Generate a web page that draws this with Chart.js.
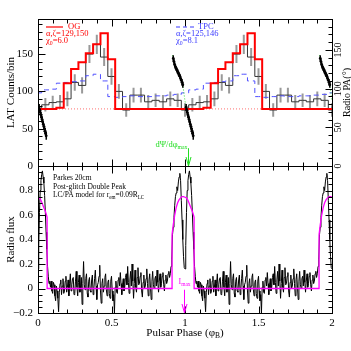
<!DOCTYPE html>
<html>
<head>
<meta charset="utf-8">
<script src="https://cdn.jsdelivr.net/npm/chart.js@4"></script>
<style>
  html, body { margin: 0; padding: 0; background: #fff; }
  #wrap { position: relative; width: 351px; height: 351px; }
  #wrap canvas { position: absolute; left: 0; top: 0; }
</style>
</head>
<body>
<div id="wrap">
  <canvas id="lat" width="351" height="351"></canvas>
  <canvas id="radio" width="351" height="351"></canvas>
</div>
<script>
// LAT light curve, 20 bins per turn, bin centres at 0, 0.05, ... 0.95
const latBinWidth = 0.05;
const latCounts = [75, 82, 85, 86, 90, 112, 108, 150, 163, 146, 120, 100, 75, 95, 95, 86, 88, 86, 90, 88];
const latErrors = [9, 9, 9, 9, 10, 11, 11, 12, 13, 12, 11, 10, 9, 10, 10, 9, 9, 9, 10, 9];
const ogModel = [76.5, 76.5, 76.5, 78, 111, 130, 139, 151, 163, 178, 143, 76.5, 76.5, 76.5, 76.5, 76.5, 76.5, 76.5, 76.5, 76.5];
const tpcModel = [98, 102, 103, 111, 112, 113, 114, 121, 123, 114, 93, 92, 93, 94, 93, 93, 94, 94, 95, 96];
const ogBackground = 76.5;

// radio position angle (deg) around the pulse, one turn
const paPhase = [0.920, 0.925, 0.930, 0.935, 0.940, 0.945, 0.950, 0.955, 0.960, 0.965, 0.970, 0.975, 0.980, 0.985,
                 1.008, 1.012, 1.016, 1.020, 1.024, 1.028, 1.032, 1.036, 1.040, 1.044, 1.048, 1.052, 1.056];
const paAngle = [139, 135, 131, 128, 126, 124, 122, 120, 118, 116, 113, 111, 108, 105,
                 76, 72, 69, 66, 63, 60, 57, 54, 51, 48, 45, 42, 39];
const paError = [4, 4, 3, 3, 3, 3, 3, 3, 3, 3, 3, 3, 4, 4,
                 4, 3, 3, 3, 3, 3, 3, 3, 3, 4, 4, 4, 5];
const paModelPhase = [0.915, 0.93, 0.95, 0.97, 0.985, 1.0, 1.01, 1.02, 1.03, 1.04, 1.05, 1.06];
const paModelAngle = [143, 132, 122, 113, 105, 84, 74, 66, 58, 50, 43, 36];
const dpsiPhase = 1.023;

// Parkes 20cm profile, one turn, 0.005 phase per sample
const radioStep = 0.005;
const radioFlux = [
  0.16, 0.35, 0.62, 0.80, 0.88, 0.93, 0.96, 0.91, 0.86, 0.76,
  0.62, 0.46, 0.32, 0.18, 0.10, 0.04, 0.06, 0.01, 0.06, -0.02,
  -0.04, 0.05, 0.03, -0.06, -0.10, 0.02, -0.02, -0.08, -0.19, -0.03,
  0.04, 0.07, -0.05, 0.02, 0.08, -0.04, -0.02, 0.06, 0.10, -0.03,
  0.01, 0.07, -0.06, 0.04, 0.12, -0.02, 0.03, 0.08, 0.09, -0.05,
  -0.04, 0.06, 0.14, 0.01, -0.06, 0.05, 0.11, -0.03, 0.02, 0.09,
  -0.13, 0.04, 0.22, 0.03, -0.01, 0.08, 0.12, -0.04, -0.07, 0.06,
  0.09, -0.02, -0.03, 0.07, 0.11, -0.05, 0.00, 0.08, 0.15, 0.02,
  -0.09, 0.03, 0.05, 0.10, 0.19, -0.02, -0.12, 0.04, 0.08, -0.03,
  0.02, 0.09, 0.12, -0.01, -0.06, 0.05, 0.07, -0.04, -0.08, 0.06,
  0.10, -0.02, -0.10, -0.05, -0.20, 0.01, 0.06, -0.03, -0.04, 0.07,
  0.09, 0.02, 0.13, 0.04, -0.05, 0.03, 0.08, -0.02, 0.01, 0.09,
  0.12, 0.03, 0.18, 0.05, -0.04, 0.07, 0.14, 0.02, 0.20, 0.06,
  -0.08, 0.04, 0.15, 0.01, -0.03, 0.09, 0.17, 0.03, 0.04, 0.10,
  0.13, -0.02, -0.07, 0.05, 0.11, 0.00, 0.02, 0.08, 0.16, 0.04,
  -0.06, 0.07, 0.12, 0.01, -0.09, 0.06, 0.14, 0.03, 0.00, 0.08,
  0.10, 0.02, 0.15, 0.05, -0.03, 0.06, 0.12, 0.01, 0.04, 0.10,
  0.13, 0.03, -0.02, 0.07, 0.11, 0.04, 0.06, 0.12, 0.14, 0.09,
  0.12, 0.18, 0.24, 0.44, 0.50, 0.58, 0.68, 0.75, 0.78, 0.83,
  0.80, 0.87, 0.91, 0.94, 0.88, 0.72, 0.56, 0.40, 0.26, 0.17
];
// LC/PA model light curve, one turn
const modelPhase = [0, 0.01, 0.02, 0.03, 0.04, 0.05, 0.06, 0.062, 0.062, 0.912, 0.912, 0.92, 0.93, 0.94, 0.95, 0.96, 0.97, 0.98, 0.99, 1.0];
const modelFlux = [0.745, 0.74, 0.72, 0.69, 0.66, 0.63, 0.59, 0.58, 0, 0, 0.44, 0.52, 0.60, 0.66, 0.70, 0.725, 0.74, 0.75, 0.75, 0.745];
const imaxPhase = 0.99;

const serif = '"Liberation Serif", "Times New Roman", serif';

function twoTurns(values, step) {
  const pts = [];
  for (let turn = 0; turn < 2; turn++) {
    values.forEach((v, i) => pts.push({ x: turn + i * step, y: v }));
  }
  pts.push({ x: 2, y: values[0] });
  return pts;
}

function errorBars(phases, values, errs, shifts) {
  const pts = [];
  shifts.forEach(s => phases.forEach((p, i) => {
    pts.push({ x: p + s, y: values[i] - errs[i] }, { x: p + s, y: values[i] + errs[i] }, { x: p + s, y: null });
  }));
  return pts;
}

function shifted(phases, values, shifts) {
  const pts = [];
  shifts.forEach(s => {
    phases.forEach((p, i) => pts.push({ x: p + s, y: values[i] }));
    pts.push({ x: phases[phases.length - 1] + s, y: null });
  });
  return pts;
}

const binCentres = latCounts.map((_, i) => i * latBinWidth);

function drawTicks(ctx, scale, from, to, step, major, edge, dir, isY) {
  ctx.beginPath();
  const n = Math.round((to - from) / step);
  for (let i = 0; i <= n; i++) {
    const v = from + i * step;
    const isMajor = Math.abs(v / major - Math.round(v / major)) < 1e-6;
    const len = isMajor ? 7 : 4;
    const p = Math.round(scale.getPixelForValue(v)) + 0.5;
    if (isY) { ctx.moveTo(edge, p); ctx.lineTo(edge + dir * len, p); }
    else { ctx.moveTo(p, edge); ctx.lineTo(p, edge + dir * len); }
  }
  ctx.stroke();
}

// text with subscripts: plain strings, or [text] for a subscript
function richText(ctx, parts, x, y, size, color, align) {
  ctx.save();
  ctx.fillStyle = color;
  ctx.textBaseline = 'middle';
  ctx.textAlign = 'left';
  const main = size + 'px ' + serif;
  const sub = (size * 0.68) + 'px ' + serif;
  let w = 0;
  parts.forEach(p => {
    ctx.font = typeof p === 'string' ? main : sub;
    w += ctx.measureText(typeof p === 'string' ? p : p[0]).width;
  });
  let cx = align === 'center' ? x - w / 2 : align === 'right' ? x - w : x;
  parts.forEach(p => {
    const isSub = typeof p !== 'string';
    const t = isSub ? p[0] : p;
    ctx.font = isSub ? sub : main;
    ctx.fillText(t, cx, isSub ? y + size * 0.32 : y);
    cx += ctx.measureText(t).width;
  });
  ctx.restore();
}

function rotatedText(ctx, parts, x, y, size, color) {
  ctx.save();
  ctx.translate(x, y);
  ctx.rotate(-Math.PI / 2);
  richText(ctx, parts, 0, 0, size, color, 'center');
  ctx.restore();
}

function arrowDown(ctx, x, y0, y1, color) {
  ctx.save();
  ctx.strokeStyle = color;
  ctx.lineWidth = 1;
  ctx.beginPath();
  ctx.moveTo(x, y0); ctx.lineTo(x, y1);
  ctx.moveTo(x - 2.5, y1 - 9); ctx.lineTo(x, y1); ctx.lineTo(x + 2.5, y1 - 9);
  ctx.stroke();
  ctx.restore();
}

function frame(ctx, a) {
  ctx.strokeStyle = '#000';
  ctx.lineWidth = 1;
  ctx.strokeRect(a.left + 0.5, a.top + 0.5, a.right - a.left, a.bottom - a.top);
}

const latDecor = {
  id: 'latDecor',
  afterDatasetsDraw(chart) {
    const ctx = chart.ctx, a = chart.chartArea;
    const x = chart.scales.x, y = chart.scales.y, pa = chart.scales.yPA;
    ctx.save();
    frame(ctx, a);
    drawTicks(ctx, x, 0, 2, 0.1, 0.5, a.top + 0.5, 1, false);
    drawTicks(ctx, x, 0, 2, 0.1, 0.5, a.bottom + 0.5, -1, false);
    drawTicks(ctx, y, 0, 190, 10, 50, a.left + 0.5, 1, true);
    drawTicks(ctx, pa, 0, 190, 10, 50, a.right + 0.5, -1, true);

    ctx.font = '10px ' + serif;
    ctx.fillStyle = '#000';
    ctx.textAlign = 'center';
    ctx.textBaseline = 'middle';
    [0, 50, 100, 150].forEach(v => {
      ctx.save();
      ctx.translate(a.right + 6, pa.getPixelForValue(v));
      ctx.rotate(-Math.PI / 2);
      ctx.fillText(String(v), 0, 0);
      ctx.restore();
    });
    rotatedText(ctx, ['Radio PA(\u00b0)'], a.right + 15, (a.top + a.bottom) / 2, 10, '#000');
    rotatedText(ctx, ['LAT Counts/bin'], 11, (a.top + a.bottom) / 2, 11, '#000');

    // legends
    const red = '#ff0000', blue = '#3a3aff';
    ctx.strokeStyle = red; ctx.lineWidth = 1.2;
    ctx.beginPath(); ctx.moveTo(a.left + 8, a.top + 8); ctx.lineTo(a.left + 25, a.top + 8); ctx.stroke();
    richText(ctx, ['OG'], a.left + 30, a.top + 7.5, 8.5, red, 'left');
    richText(ctx, ['\u03b1,\u03b6=129,150'], a.left + 8, a.top + 14.5, 8.5, red, 'left');
    richText(ctx, ['\u03c7', ['0'], '=6.0'], a.left + 8, a.top + 21.5, 8.5, red, 'left');
    ctx.strokeStyle = blue; ctx.setLineDash([4, 3]);
    ctx.beginPath(); ctx.moveTo(a.left + 138, a.top + 8); ctx.lineTo(a.left + 156, a.top + 8); ctx.stroke();
    ctx.setLineDash([]);
    richText(ctx, ['TPC'], a.left + 160, a.top + 7.5, 8.5, blue, 'left');
    richText(ctx, ['\u03b1,\u03b6=125,146'], a.left + 138, a.top + 14.5, 8.5, blue, 'left');
    richText(ctx, ['\u03c7', ['0'], '=8.1'], a.left + 138, a.top + 21.5, 8.5, blue, 'left');

    // steepest PA swing marker
    const xd = Math.round(x.getPixelForValue(dpsiPhase)) + 0.5;
    arrowDown(ctx, xd, pa.getPixelForValue(23), a.bottom, '#22dd22');
    richText(ctx, ['d\u03a8/d\u03c6', ['max']], xd - 1, pa.getPixelForValue(28), 8.5, '#22dd22', 'right');
    ctx.restore();
  }
};

const radioDecor = {
  id: 'radioDecor',
  afterDatasetsDraw(chart) {
    const ctx = chart.ctx, a = chart.chartArea;
    const x = chart.scales.x, y = chart.scales.y;
    ctx.save();
    frame(ctx, a);
    drawTicks(ctx, x, 0, 2, 0.1, 0.5, a.top + 0.5, 1, false);
    drawTicks(ctx, x, 0, 2, 0.1, 0.5, a.bottom + 0.5, -1, false);
    drawTicks(ctx, y, -0.2, 1.0, 0.05, 0.2, a.left + 0.5, 1, true);
    drawTicks(ctx, y, -0.2, 1.0, 0.05, 0.2, a.right + 0.5, -1, true);

    rotatedText(ctx, ['Radio flux'], 11, (a.top + a.bottom) / 2, 11, '#000');
    richText(ctx, ['Pulsar Phase (\u03c6', ['B'], ')'], x.getPixelForValue(1), 333, 11, '#000', 'center');

    richText(ctx, ['Parkes 20cm'], a.left + 15, a.top + 12, 7.5, '#000', 'left');
    richText(ctx, ['Post-glitch Double Peak'], a.left + 15, a.top + 21, 7.5, '#000', 'left');
    richText(ctx, ['LC/PA model for r', ['em'], '=0.09R', ['LC']], a.left + 15, a.top + 29.5, 7.5, '#000', 'left');

    const xi = Math.round(x.getPixelForValue(imaxPhase)) + 0.5;
    arrowDown(ctx, xi, y.getPixelForValue(-0.01), a.bottom, '#ff00ff');
    richText(ctx, ['I', ['max']], xi - 6, y.getPixelForValue(0.05), 8, '#ff00ff', 'left');
    ctx.restore();
  }
};

const common = {
  responsive: false,
  animation: false,
  devicePixelRatio: 1,
  events: [],
  plugins: { legend: { display: false }, tooltip: { enabled: false } },
  elements: { point: { radius: 0 }, line: { tension: 0 } }
};

function leftAxis(extra) {
  return Object.assign({
    afterFit: s => { s.width = 38; },
    grid: { display: false, drawTicks: false },
    border: { display: false }
  }, extra);
}

new Chart(document.getElementById('lat'), {
  type: 'line',
  data: {
    datasets: [
      { data: shifted(paPhase, paAngle, [-1, 0, 1]), yAxisID: 'yPA', showLine: false,
        pointRadius: 1.4, pointBackgroundColor: '#000', pointBorderWidth: 0 },
      { data: errorBars(paPhase, paAngle, paError, [-1, 0, 1]), yAxisID: 'yPA', borderColor: '#000', borderWidth: 1.5 },
      { data: shifted(paModelPhase, paModelAngle, [-1, 0, 1]), yAxisID: 'yPA', borderColor: '#33dd33',
        borderWidth: 1, borderDash: [1, 2] },
      { data: twoTurns(ogModel, latBinWidth), stepped: 'middle', borderColor: '#ff0000', borderWidth: 2 },
      { data: twoTurns(tpcModel, latBinWidth), stepped: 'middle', borderColor: '#5050ff', borderWidth: 1, borderDash: [5, 4] },
      { data: twoTurns(latCounts, latBinWidth), stepped: 'middle', borderColor: '#333', borderWidth: 1 },
      { data: errorBars(binCentres, latCounts, latErrors, [0, 1, 2]), borderColor: '#999', borderWidth: 2 },
      { data: [{ x: 0, y: ogBackground }, { x: 2, y: ogBackground }], borderColor: '#ff7070', borderWidth: 1, borderDash: [1, 2] }
    ]
  },
  options: Object.assign({}, common, {
    layout: { padding: { left: 0, right: 0, top: 19, bottom: 185 } },
    scales: {
      x: { type: 'linear', min: 0, max: 2, display: false },
      y: leftAxis({ min: 0, max: 197,
        ticks: { stepSize: 50, includeBounds: false, padding: 5, color: '#000',
                 font: { family: serif, size: 11 }, callback: v => String(v) } }),
      yPA: { position: 'right', min: 0, max: 190, afterFit: s => { s.width = 19; },
             grid: { display: false, drawTicks: false }, border: { display: false }, ticks: { display: false } }
    }
  }),
  plugins: [latDecor]
});

const modelPoints = [];
[0, 1].forEach(turn => modelPhase.forEach((p, i) => {
  if (turn === 1 && i === 0) return;
  modelPoints.push({ x: p + turn, y: modelFlux[i] });
}));

new Chart(document.getElementById('radio'), {
  type: 'line',
  data: {
    datasets: [
      { data: modelPoints, borderColor: '#ff00ff', borderWidth: 1.3 },
      { data: twoTurns(radioFlux, radioStep), borderColor: '#000', borderWidth: 1 }
    ]
  },
  options: Object.assign({}, common, {
    layout: { padding: { left: 0, right: 0, top: 166, bottom: 0 } },
    scales: {
      x: { type: 'linear', min: 0, max: 2, afterFit: s => { s.height = 38; },
           grid: { display: false, drawTicks: false }, border: { display: false },
           ticks: { stepSize: 0.5, padding: 4, color: '#000', font: { family: serif, size: 11 },
                    maxRotation: 0, callback: v => String(v) } },
      y: leftAxis({ min: -0.2, max: 1.0,
        ticks: { stepSize: 0.2, padding: 5, color: '#000', font: { family: serif, size: 11 },
                 callback: v => {
                   const r = Math.round(v * 10) / 10;
                   if (r > 0.9) return null;
                   return r < 0 ? '\u2212' + (-r) : String(r);
                 } } }),
      yR: { position: 'right', min: -0.2, max: 1.0, afterFit: s => { s.width = 19; },
            grid: { display: false, drawTicks: false }, border: { display: false }, ticks: { display: false } }
    }
  }),
  plugins: [radioDecor]
});
</script>
</body>
</html>
